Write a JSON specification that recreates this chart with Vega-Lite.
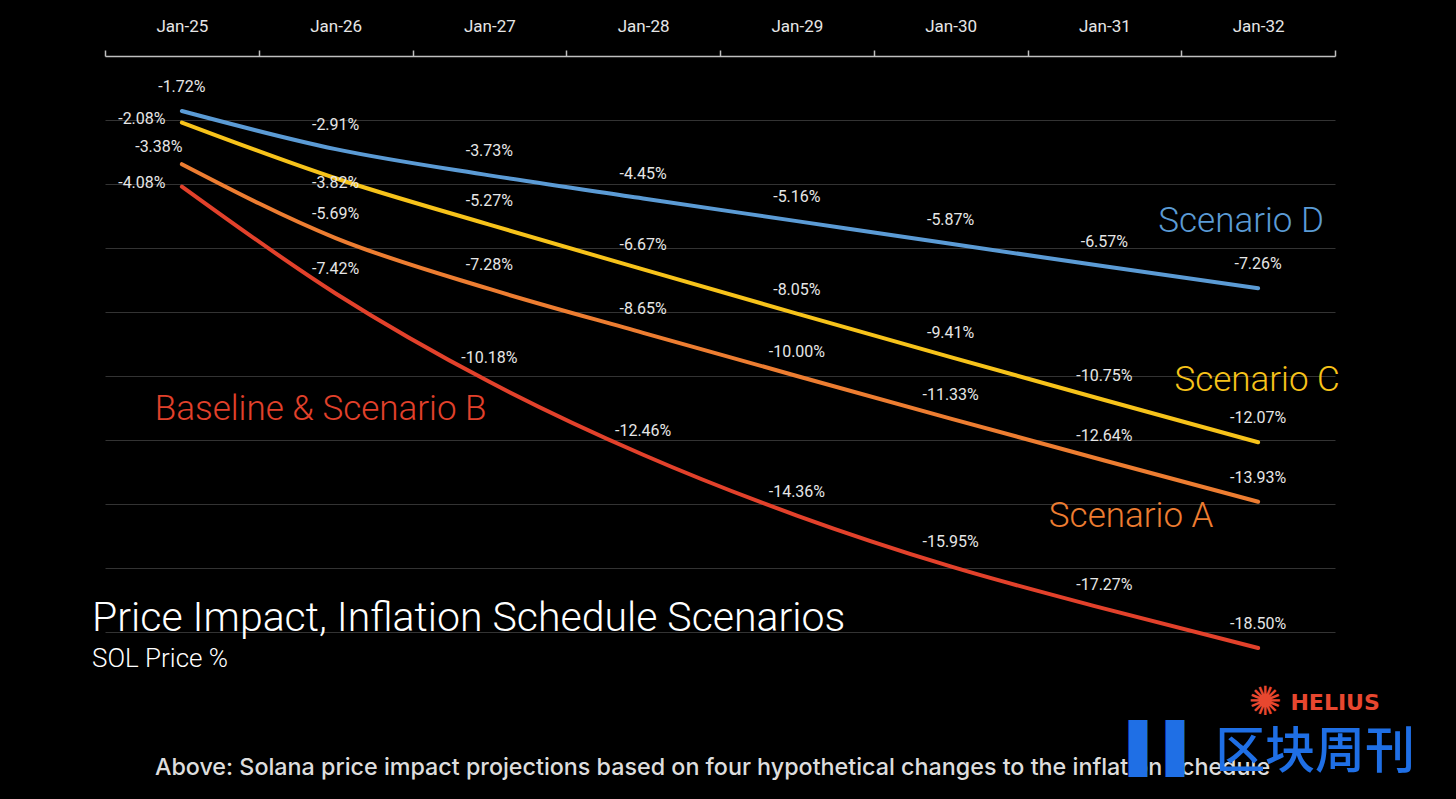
{
  "$schema": "https://vega.github.io/schema/vega-lite/v6.json",
  "width": 1230,
  "height": 640,
  "autosize": {"type": "none"},
  "padding": {"left": 105, "top": 56, "right": 121, "bottom": 103},
  "background": "#000000",
  "title": {
    "text": "Price Impact, Inflation Schedule Scenarios",
    "subtitle": "SOL Price %",
    "orient": "bottom",
    "anchor": "start",
    "frame": "group",
    "offset": -180,
    "dx": -13,
    "font": "Roboto",
    "fontSize": 41,
    "fontWeight": 300,
    "color": "#ffffff",
    "subtitleFont": "Roboto",
    "subtitleFontSize": 26,
    "subtitleFontWeight": 300,
    "subtitleColor": "#ffffff",
    "subtitlePadding": 6
  },
  "config": {"view": {"stroke": null}, "font": "Roboto"},
  "data": {
    "values": [
      {"date": "Jan-25", "series": "Scenario D", "value": -1.72},
      {"date": "Jan-26", "series": "Scenario D", "value": -2.91},
      {"date": "Jan-27", "series": "Scenario D", "value": -3.73},
      {"date": "Jan-28", "series": "Scenario D", "value": -4.45},
      {"date": "Jan-29", "series": "Scenario D", "value": -5.16},
      {"date": "Jan-30", "series": "Scenario D", "value": -5.87},
      {"date": "Jan-31", "series": "Scenario D", "value": -6.57},
      {"date": "Jan-32", "series": "Scenario D", "value": -7.26},
      {"date": "Jan-25", "series": "Scenario C", "value": -2.08},
      {"date": "Jan-26", "series": "Scenario C", "value": -3.82},
      {"date": "Jan-27", "series": "Scenario C", "value": -5.27},
      {"date": "Jan-28", "series": "Scenario C", "value": -6.67},
      {"date": "Jan-29", "series": "Scenario C", "value": -8.05},
      {"date": "Jan-30", "series": "Scenario C", "value": -9.41},
      {"date": "Jan-31", "series": "Scenario C", "value": -10.75},
      {"date": "Jan-32", "series": "Scenario C", "value": -12.07},
      {"date": "Jan-25", "series": "Scenario A", "value": -3.38},
      {"date": "Jan-26", "series": "Scenario A", "value": -5.69},
      {"date": "Jan-27", "series": "Scenario A", "value": -7.28},
      {"date": "Jan-28", "series": "Scenario A", "value": -8.65},
      {"date": "Jan-29", "series": "Scenario A", "value": -10.00},
      {"date": "Jan-30", "series": "Scenario A", "value": -11.33},
      {"date": "Jan-31", "series": "Scenario A", "value": -12.64},
      {"date": "Jan-32", "series": "Scenario A", "value": -13.93},
      {"date": "Jan-25", "series": "Baseline & Scenario B", "value": -4.08},
      {"date": "Jan-26", "series": "Baseline & Scenario B", "value": -7.42},
      {"date": "Jan-27", "series": "Baseline & Scenario B", "value": -10.18},
      {"date": "Jan-28", "series": "Baseline & Scenario B", "value": -12.46},
      {"date": "Jan-29", "series": "Baseline & Scenario B", "value": -14.36},
      {"date": "Jan-30", "series": "Baseline & Scenario B", "value": -15.95},
      {"date": "Jan-31", "series": "Baseline & Scenario B", "value": -17.27},
      {"date": "Jan-32", "series": "Baseline & Scenario B", "value": -18.50}
    ]
  },
  "transform": [{"calculate": "replace(format(datum.value, '.2f'), '\u2212', '-') + '%'", "as": "label"}],
  "encoding": {
    "x": {
      "field": "date",
      "type": "ordinal",
      "scale": {"type": "band", "paddingInner": 0, "paddingOuter": 0},
      "axis": {
        "orient": "top",
        "title": null,
        "labelAngle": 0,
        "labelColor": "#e6e6e6",
        "labelFont": "Roboto",
        "labelFontSize": 17,
        "labelPadding": 15,
        "tickBand": "extent",
        "tickSize": 6,
        "tickColor": "#bfbfbf",
        "tickWidth": 1.5,
        "domainColor": "#bfbfbf",
        "domainWidth": 1.5,
        "grid": false
      }
    },
    "y": {
      "field": "value",
      "type": "quantitative",
      "scale": {"domain": [-20, 0], "nice": false, "zero": false},
      "axis": {
        "title": null,
        "labels": false,
        "ticks": false,
        "domain": false,
        "grid": true,
        "gridColor": "#333333",
        "gridWidth": 1,
        "values": [-18, -16, -14, -12, -10, -8, -6, -4, -2]
      }
    },
    "color": {
      "field": "series",
      "type": "nominal",
      "scale": {
        "domain": ["Scenario D", "Scenario C", "Scenario A", "Baseline & Scenario B"],
        "range": ["#5b9bd5", "#f7c31a", "#ed7d31", "#e2412b"]
      },
      "legend": null
    }
  },
  "layer": [
    {
      "mark": {"type": "line", "strokeWidth": 4, "interpolate": "monotone", "strokeCap": "round"},
      "encoding": {"detail": {"field": "series"}}
    },
    {
      "transform": [{"filter": "!(datum.date == 'Jan-25' && datum.series != 'Scenario D') && !(datum.date == 'Jan-26' && datum.series == 'Scenario C')"}],
      "mark": {"type": "text", "fontSize": 16, "font": "Roboto", "dy": -24, "baseline": "middle", "align": "center"},
      "encoding": {"text": {"field": "label"}, "color": {"value": "#e6e6e6"}}
    },
    {
      "transform": [{"filter": "datum.date == 'Jan-25' && (datum.series == 'Scenario C' || datum.series == 'Baseline & Scenario B')"}],
      "mark": {"type": "text", "fontSize": 16, "font": "Roboto", "dx": -40, "dy": -4, "baseline": "middle", "align": "center"},
      "encoding": {"text": {"field": "label"}, "color": {"value": "#e6e6e6"}}
    },
    {
      "transform": [{"filter": "datum.date == 'Jan-25' && datum.series == 'Scenario A'"}],
      "mark": {"type": "text", "fontSize": 16, "font": "Roboto", "dx": -23, "dy": -17, "baseline": "middle", "align": "center"},
      "encoding": {"text": {"field": "label"}, "color": {"value": "#e6e6e6"}}
    },
    {
      "transform": [{"filter": "datum.date == 'Jan-26' && datum.series == 'Scenario C'"}],
      "mark": {"type": "text", "fontSize": 16, "font": "Roboto", "dy": 5, "baseline": "middle", "align": "center"},
      "encoding": {"text": {"field": "label"}, "color": {"value": "#e6e6e6"}}
    },
    {
      "transform": [{"filter": "datum.date == 'Jan-32' && datum.series == 'Scenario D'"}],
      "mark": {"type": "text", "fontSize": 35, "font": "Roboto", "fontWeight": 300, "dx": -17, "dy": -67, "baseline": "middle", "align": "center"},
      "encoding": {"text": {"field": "series"}}
    },
    {
      "transform": [{"filter": "datum.date == 'Jan-32' && datum.series == 'Scenario C'"}],
      "mark": {"type": "text", "fontSize": 35, "font": "Roboto", "fontWeight": 300, "dx": -1, "dy": -62, "baseline": "middle", "align": "center"},
      "encoding": {"text": {"field": "series"}}
    },
    {
      "transform": [{"filter": "datum.date == 'Jan-32' && datum.series == 'Scenario A'"}],
      "mark": {"type": "text", "fontSize": 35, "font": "Roboto", "fontWeight": 300, "dx": -127, "dy": 14, "baseline": "middle", "align": "center"},
      "encoding": {"text": {"field": "series"}}
    },
    {
      "transform": [{"filter": "datum.date == 'Jan-26' && datum.series == 'Baseline & Scenario B'"}],
      "mark": {"type": "text", "fontSize": 35, "font": "Roboto", "fontWeight": 300, "dx": -15, "dy": 116, "baseline": "middle", "align": "center"},
      "encoding": {"text": {"field": "series"}}
    },
    {
      "transform": [{"filter": "datum.date == 'Jan-32' && datum.series == 'Baseline & Scenario B'"}],
      "mark": {"type": "text", "fontSize": 22, "font": "DejaVu Sans", "fontWeight": "bold", "dx": 77, "dy": 55, "baseline": "middle", "align": "center"},
      "encoding": {"text": {"value": "HELIUS"}, "color": {"value": "#e8472f"}}
    },
    {
      "transform": [{"filter": "datum.date == 'Jan-32' && datum.series == 'Baseline & Scenario B'"}],
      "mark": {"type": "text", "fontSize": 40, "font": "DejaVu Sans", "dx": 7, "dy": 55, "baseline": "middle", "align": "center"},
      "encoding": {"text": {"value": "✺"}, "color": {"value": "#e8472f"}}
    },
    {
      "transform": [{"filter": "datum.date == 'Jan-25' && datum.series == 'Baseline & Scenario B'"}],
      "mark": {"type": "text", "fontSize": 23.3, "font": "Inter", "fontWeight": 500, "dx": -27, "dy": 581, "baseline": "middle", "align": "left"},
      "encoding": {"text": {"value": "Above: Solana price impact projections based on four hypothetical changes to the inflation schedule"}, "color": {"value": "#dddddd"}}
    },
    {
      "transform": [{"filter": "datum.date == 'Jan-32' && datum.series == 'Baseline & Scenario B'"}],
      "mark": {"type": "text", "fontSize": 48, "font": "DejaVu Sans", "dx": -92, "dy": 103, "baseline": "middle", "align": "center"},
      "encoding": {"text": {"value": "▌▌"}, "color": {"value": "#1f6fe5"}}
    },
    {
      "transform": [{"filter": "datum.date == 'Jan-32' && datum.series == 'Baseline & Scenario B'"}],
      "mark": {"type": "text", "fontSize": 50, "font": "Noto Sans CJK SC", "fontWeight": 500, "dx": 57, "dy": 105, "baseline": "middle", "align": "center"},
      "encoding": {"text": {"value": "区块周刊"}, "color": {"value": "#1f6fe5"}}
    }
  ]
}
